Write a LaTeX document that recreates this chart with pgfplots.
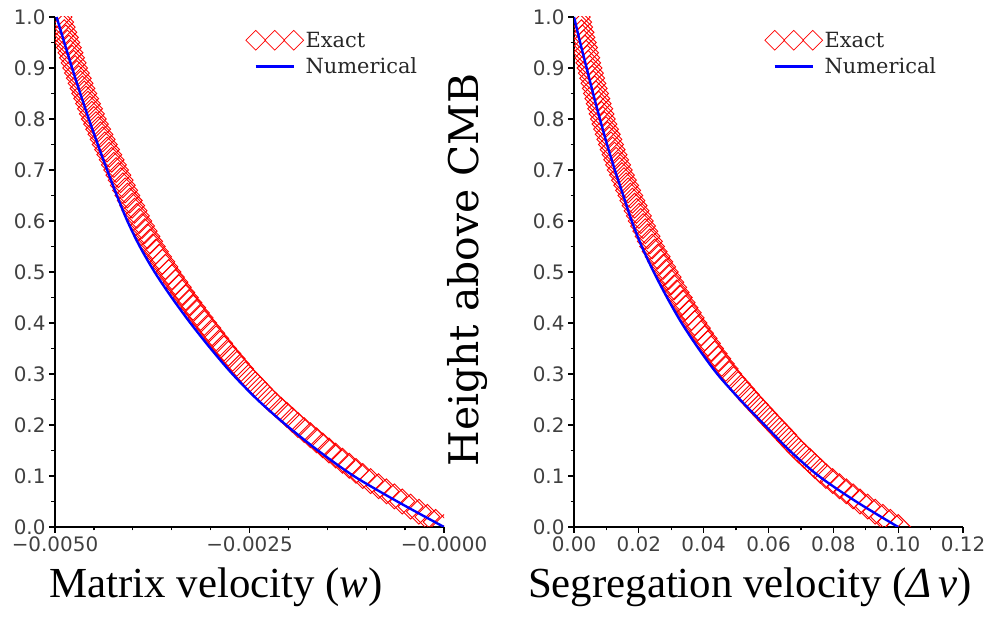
\documentclass[border=0pt]{standalone}
\usepackage{fontspec}
\usepackage{pgfplots}
\pgfplotsset{compat=1.18}
\newfontfamily\lserif{Liberation Serif}
\newfontfamily\dserif{DejaVu Serif}
\newfontfamily\dsans{DejaVu Sans}

\pgfplotstableread{
x y
0.000000 0.00
-0.000107 0.01
-0.000214 0.02
-0.000322 0.03
-0.000429 0.04
-0.000536 0.05
-0.000638 0.06
-0.000740 0.07
-0.000841 0.08
-0.000943 0.09
-0.001044 0.10
-0.001131 0.11
-0.001218 0.12
-0.001305 0.13
-0.001392 0.14
-0.001479 0.15
-0.001558 0.16
-0.001638 0.17
-0.001717 0.18
-0.001797 0.19
-0.001876 0.20
-0.001949 0.21
-0.002021 0.22
-0.002094 0.23
-0.002166 0.24
-0.002239 0.25
-0.002302 0.26
-0.002365 0.27
-0.002427 0.28
-0.002490 0.29
-0.002553 0.30
-0.002608 0.31
-0.002663 0.32
-0.002717 0.33
-0.002772 0.34
-0.002827 0.35
-0.002878 0.36
-0.002928 0.37
-0.002979 0.38
-0.003029 0.39
-0.003080 0.40
-0.003128 0.41
-0.003176 0.42
-0.003224 0.43
-0.003272 0.44
-0.003320 0.45
-0.003364 0.46
-0.003408 0.47
-0.003452 0.48
-0.003496 0.49
-0.003540 0.50
-0.003581 0.51
-0.003621 0.52
-0.003662 0.53
-0.003702 0.54
-0.003743 0.55
-0.003778 0.56
-0.003812 0.57
-0.003847 0.58
-0.003881 0.59
-0.003916 0.60
-0.003947 0.61
-0.003978 0.62
-0.004008 0.63
-0.004039 0.64
-0.004070 0.65
-0.004099 0.66
-0.004128 0.67
-0.004156 0.68
-0.004185 0.69
-0.004214 0.70
-0.004243 0.71
-0.004272 0.72
-0.004302 0.73
-0.004331 0.74
-0.004360 0.75
-0.004388 0.76
-0.004416 0.77
-0.004445 0.78
-0.004473 0.79
-0.004501 0.80
-0.004526 0.81
-0.004550 0.82
-0.004575 0.83
-0.004599 0.84
-0.004624 0.85
-0.004647 0.86
-0.004671 0.87
-0.004694 0.88
-0.004718 0.89
-0.004741 0.90
-0.004761 0.91
-0.004781 0.92
-0.004801 0.93
-0.004821 0.94
-0.004841 0.95
-0.004861 0.96
-0.004881 0.97
-0.004901 0.98
-0.004921 0.99
-0.004941 1.00
}\leftexact

\pgfplotstableread{
x y
0.000000 0.00
-0.000600 0.05
-0.001160 0.10
-0.001620 0.15
-0.002030 0.20
-0.002400 0.25
-0.002720 0.30
-0.003000 0.35
-0.003260 0.40
-0.003500 0.45
-0.003720 0.50
-0.003910 0.55
-0.004070 0.60
-0.004205 0.65
-0.004330 0.70
-0.004450 0.75
-0.004565 0.80
-0.004675 0.85
-0.004780 0.90
-0.004880 0.95
-0.004980 1.00
}\leftnum

\pgfplotstableread{
x y
0.1000 0.00
0.0976 0.01
0.0953 0.02
0.0929 0.03
0.0906 0.04
0.0882 0.05
0.0861 0.06
0.0840 0.07
0.0819 0.08
0.0798 0.09
0.0777 0.10
0.0760 0.11
0.0743 0.12
0.0727 0.13
0.0710 0.14
0.0693 0.15
0.0678 0.16
0.0663 0.17
0.0649 0.18
0.0634 0.19
0.0619 0.20
0.0604 0.21
0.0590 0.22
0.0575 0.23
0.0561 0.24
0.0546 0.25
0.0533 0.26
0.0519 0.27
0.0506 0.28
0.0492 0.29
0.0479 0.30
0.0468 0.31
0.0456 0.32
0.0445 0.33
0.0434 0.34
0.0423 0.35
0.0413 0.36
0.0403 0.37
0.0392 0.38
0.0382 0.39
0.0372 0.40
0.0363 0.41
0.0354 0.42
0.0344 0.43
0.0335 0.44
0.0326 0.45
0.0317 0.46
0.0309 0.47
0.0300 0.48
0.0292 0.49
0.0283 0.50
0.0275 0.51
0.0266 0.52
0.0258 0.53
0.0249 0.54
0.0241 0.55
0.0234 0.56
0.0227 0.57
0.0220 0.58
0.0213 0.59
0.0206 0.60
0.0200 0.61
0.0193 0.62
0.0187 0.63
0.0180 0.64
0.0174 0.65
0.0167 0.66
0.0161 0.67
0.0154 0.68
0.0148 0.69
0.0141 0.70
0.0136 0.71
0.0130 0.72
0.0125 0.73
0.0119 0.74
0.0114 0.75
0.0109 0.76
0.0104 0.77
0.0099 0.78
0.0094 0.79
0.0089 0.80
0.0085 0.81
0.0081 0.82
0.0076 0.83
0.0072 0.84
0.0068 0.85
0.0064 0.86
0.0060 0.87
0.0056 0.88
0.0052 0.89
0.0048 0.90
0.0044 0.91
0.0041 0.92
0.0037 0.93
0.0034 0.94
0.0030 0.95
0.0026 0.96
0.0023 0.97
0.0019 0.98
0.0016 0.99
0.0012 1.00
}\rightexact

\pgfplotstableread{
x y
0.1000 0.00
0.0870 0.05
0.0755 0.10
0.0665 0.15
0.0588 0.20
0.0512 0.25
0.0442 0.30
0.0384 0.35
0.0332 0.40
0.0287 0.45
0.0246 0.50
0.0209 0.55
0.0178 0.60
0.0152 0.65
0.0126 0.70
0.0102 0.75
0.0080 0.80
0.0059 0.85
0.0039 0.90
0.0019 0.95
0.0000 1.00
}\rightnum

\pgfplotsset{
  myax/.style={
    scale only axis, width=389bp, height=510bp,
    axis lines=left, axis line style={-, line width=1.8bp, black},
    ymin=0, ymax=1,
    ytick={0,0.1,0.2,0.3,0.4,0.5,0.6,0.7,0.8,0.9,1.0},
    yticklabels={0.0,0.1,0.2,0.3,0.4,0.5,0.6,0.7,0.8,0.9,1.0},
    minor ytick={0.05,0.15,0.25,0.35,0.45,0.55,0.65,0.75,0.85,0.95},
    scaled ticks=false,
    tick align=outside, major tick length=6bp, minor tick length=3.5bp,
    tick style={black, line width=1.3bp},
    tick label style={font=\dsans\fontsize{20}{20}\selectfont, text=black!75},
    clip marker paths=true,
    legend cell align=left,
    legend style={draw=none, fill=none, anchor=north west,
      font=\dserif\fontsize{21}{21}\selectfont, text=black!85,
      row sep=5bp, inner sep=0pt},
  },
  exactsty/.style={red, line width=0.9bp, only marks, mark=square, mark size=8.8bp,
    mark options={rotate=45, solid},
    legend image code/.code={\draw[##1, mark size=7bp, line width=0.7bp] plot coordinates {(0bp,0bp) (19bp,0bp) (38bp,0bp)};}},
  numsty/.style={blue, line width=2.4bp, smooth, no markers,
    legend image code/.code={\draw[##1] (0bp,0bp) -- (38bp,0bp);}},
}

\begin{document}
\begin{tikzpicture}
\path[use as bounding box] (0bp,0bp) rectangle (994bp,617bp);

\begin{axis}[myax, at={(55bp,90bp)}, anchor=south west,
  xmin=-0.005, xmax=0,
  xtick={-0.005,-0.0025,0}, xticklabels={−0.0050,−0.0025,−0.0000},
  minor xtick={-0.0045,-0.004,-0.0035,-0.003,-0.002,-0.0015,-0.001,-0.0005},
  legend style={at={(rel axis cs:0.49,0.975)}}]
\addplot[exactsty] table {\leftexact};
\addlegendentry{Exact}
\addplot[numsty] table {\leftnum};
\addlegendentry{Numerical}
\end{axis}

\begin{axis}[myax, at={(574bp,90bp)}, anchor=south west,
  xmin=0, xmax=0.12,
  xtick={0,0.02,0.04,0.06,0.08,0.10,0.12},
  xticklabels={0.00,0.02,0.04,0.06,0.08,0.10,0.12},
  minor xtick={0.01,0.03,0.05,0.07,0.09,0.11},
  legend style={at={(rel axis cs:0.49,0.975)}}]
\addplot[exactsty] table {\rightexact};
\addlegendentry{Exact}
\addplot[numsty] table {\rightnum};
\addlegendentry{Numerical}
\end{axis}

\node[anchor=base, font=\lserif\fontsize{43}{43}\selectfont] at (216bp,20bp) {Matrix velocity (\textit{w})};
\node[anchor=base, font=\lserif\fontsize{43}{43}\selectfont] at (750bp,20bp) {Segregation velocity (\textit{Δ\,v})};
\node[rotate=90, anchor=base, font=\dserif\fontsize{41}{41}\selectfont] at (478bp,347bp) {Height above CMB};
\end{tikzpicture}
\end{document}
